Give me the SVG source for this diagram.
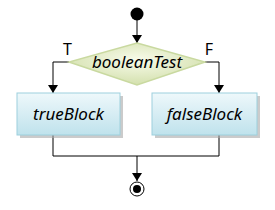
<svg xmlns="http://www.w3.org/2000/svg" width="275" height="210" viewBox="0 0 275 210">
<defs>
<radialGradient id="gd" cx="50%" cy="40%" r="60%">
<stop offset="0" stop-color="#f8fbea"/>
<stop offset="1" stop-color="#d3e0ad"/>
</radialGradient>
<linearGradient id="gb" x1="0" y1="0" x2="0" y2="1">
<stop offset="0" stop-color="#eef8fb"/>
<stop offset="1" stop-color="#bfe2ec"/>
</linearGradient>
<marker id="ah" markerWidth="8" markerHeight="10" refX="8" refY="5" orient="auto" markerUnits="userSpaceOnUse">
<path d="M0,0 L8,5 L0,10 Z" fill="#000"/>
</marker>
<style>
.lbl{font-family:"Noto Sans","DejaVu Sans",sans-serif;font-style:italic;font-size:17px;fill:#000;text-anchor:middle}
.tf{font-family:"Noto Sans","DejaVu Sans",sans-serif;font-size:16px;fill:#000;text-anchor:middle}
.box{fill:url(#gb);stroke:#9dd0dd;stroke-width:1}
.shadow{fill:#a9a9a9;opacity:0.6}
.edge{fill:none;stroke:#000;stroke-width:1}
</style>
</defs>
<g id="connectors">
<path class="edge" d="M137,20 L137,43" marker-end="url(#ah)"/>
<path class="edge" d="M69,62 L53,62 L53,93" marker-end="url(#ah)"/>
<path class="edge" d="M205,62 L219,62 L219,93" marker-end="url(#ah)"/>
<path class="edge" d="M53,135 L53,156 L219,156 L219,135"/>
<path class="edge" d="M137,156 L137,181" marker-end="url(#ah)"/>
<text class="tf" x="67.5" y="55">T</text>
<text class="tf" x="209" y="55">F</text>
</g>
<g id="start">
<circle cx="137" cy="14" r="6.5" fill="#000"/>
</g>
<g id="decision">
<polygon points="137,43 205,62 137,85 69,62" fill="url(#gd)" stroke="#c9d9a0" stroke-width="1.5"/>
<text class="lbl" x="137" y="68">booleanTest</text>
</g>
<g id="trueBlock">
<rect class="shadow" x="20" y="96" width="103" height="42"/>
<rect class="box" x="17" y="93" width="103" height="42"/>
<text class="lbl" x="68.5" y="120">trueBlock</text>
</g>
<g id="falseBlock">
<rect class="shadow" x="155" y="96" width="105" height="42"/>
<rect class="box" x="152" y="93" width="105" height="42"/>
<text class="lbl" x="204.5" y="120">falseBlock</text>
</g>
<g id="end">
<circle cx="137" cy="189" r="7" fill="#fff" stroke="#000" stroke-width="1"/>
<circle cx="137" cy="189" r="4" fill="#000"/>
</g>
</svg>
